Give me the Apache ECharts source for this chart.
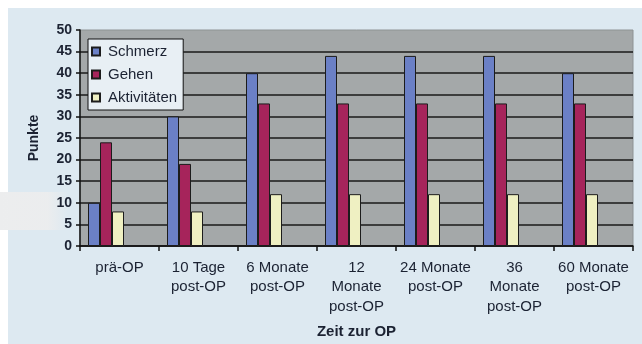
<!DOCTYPE html>
<html>
<head>
<meta charset="utf-8">
<script src="https://cdn.jsdelivr.net/npm/echarts@6/dist/echarts.min.js"></script>
<style>
html,body{margin:0;padding:0;background:#ffffff;}
#chart{width:642px;height:344px;}
</style>
</head>
<body>
<div id="chart"></div>
<script>
var categories = ['prä-OP', '10 Tage\npost-OP', '6 Monate\npost-OP', '12\nMonate\npost-OP', '24 Monate\npost-OP', '36\nMonate\npost-OP', '60 Monate\npost-OP'];
var schmerz = [10, 30, 40, 44, 44, 44, 40];
var gehen = [24, 19, 33, 33, 33, 33, 33];
var aktivitaeten = [8, 8, 12, 12, 12, 12, 12];
var seriesNames = ['Schmerz', 'Gehen', 'Aktivitäten'];
var yTicks = [0, 5, 10, 15, 20, 25, 30, 35, 40, 45, 50];

var FONT = 'Arial, "Liberation Sans", sans-serif';
var chart = echarts.init(document.getElementById('chart'), null, {renderer: 'canvas'});
var barStyle = function (c) {
  return {color: c, borderColor: '#1c1c1c', borderWidth: 1};
};
chart.setOption({
  animation: false,
  backgroundColor: '#ffffff',
  graphic: [
    {type: 'rect', z: -10, shape: {x: 8, y: 8, width: 634, height: 336}, style: {fill: '#dde9f1'}, silent: true},
    {type: 'rect', z: -9, shape: {x: 0, y: 192, width: 68, height: 38},
      style: {fill: new echarts.graphic.LinearGradient(0, 0, 1, 0, [
        {offset: 0, color: 'rgba(236,237,238,1)'},
        {offset: 0.7, color: 'rgba(236,237,238,0.95)'},
        {offset: 1, color: 'rgba(236,237,238,0)'}])}, silent: true}
  ],
  textStyle: {fontFamily: FONT},
  grid: {left: 80, top: 30, right: 9, bottom: 98, show: true, backgroundColor: '#a4a8a9', borderColor: '#8e9394', borderWidth: 1},
  legend: {
    orient: 'vertical', left: 88, top: 39,
    data: seriesNames,
    itemWidth: 8, itemHeight: 8, itemGap: 8,
    padding: [5, 6, 5, 3],
    backgroundColor: '#e8eff4', borderColor: '#111111', borderWidth: 1,
    textStyle: {fontFamily: FONT, fontSize: 15, color: '#1b2232', padding: [0, 0, 0, 3]},
    icon: 'rect'
  },
  xAxis: {
    type: 'category', data: categories,
    name: 'Zeit zur OP', nameLocation: 'middle', nameGap: 78,
    nameTextStyle: {fontFamily: FONT, fontSize: 15, fontWeight: 'bold', color: '#1b2232'},
    axisLine: {lineStyle: {color: '#111111', width: 1.5}},
    axisTick: {show: true, length: 5, lineStyle: {color: '#111111', width: 1.5}},
    axisLabel: {interval: 0, margin: 12, fontFamily: FONT, fontSize: 15, lineHeight: 19.5, color: '#1b2232'}
  },
  yAxis: {
    type: 'value', min: 0, max: 50, interval: 5,
    name: 'Punkte', nameLocation: 'middle', nameGap: 39, nameRotate: 90,
    nameTextStyle: {fontFamily: FONT, fontSize: 14, fontWeight: 'bold', color: '#1b2232'},
    axisLine: {show: true, lineStyle: {color: '#111111', width: 1.5}},
    axisTick: {show: true, length: 4, lineStyle: {color: '#111111', width: 1.5}},
    axisLabel: {margin: 8, fontFamily: FONT, fontSize: 14, fontWeight: 'bold', color: '#1b2232',
      formatter: function (v) { return yTicks.indexOf(v) >= 0 ? String(v) : ''; }},
    splitLine: {show: true, showMaxLine: false, lineStyle: {color: '#1a1a1a', width: 1.5}}
  },
  series: [
    {name: seriesNames[0], type: 'bar', data: schmerz, barWidth: 12, barGap: '0%', itemStyle: barStyle('#6b80c6')},
    {name: seriesNames[1], type: 'bar', data: gehen, barWidth: 12, barGap: '0%', itemStyle: barStyle('#a6245b')},
    {name: seriesNames[2], type: 'bar', data: aktivitaeten, barWidth: 12, barGap: '0%', itemStyle: barStyle('#eff0c2')},
    {name: 'spacer', type: 'bar', data: [], barWidth: 27, barGap: '0%', silent: true}
  ]
});
</script>
</body>
</html>
